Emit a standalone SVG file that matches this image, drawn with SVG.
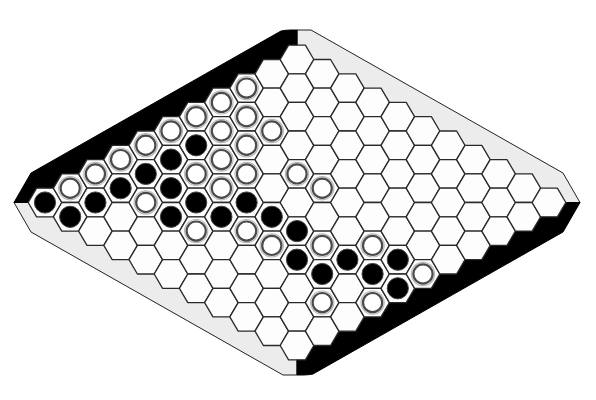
<svg xmlns="http://www.w3.org/2000/svg" xmlns:xlink="http://www.w3.org/1999/xlink" width="596" height="400" viewBox="0 0 596 400">
<defs>
<style>
.hx{fill:#fdfdfd;stroke:#2a2a2a;stroke-width:1.3;stroke-linejoin:round}
.b{fill:#000;stroke:#444;stroke-width:1}
.w{fill:#fff;stroke:#4a4a4a;stroke-width:2.2}
.wh{fill:none;stroke:#b8b8b8;stroke-width:1.2}
.gray{fill:#ececec;stroke:#222;stroke-width:1}
.blk{fill:#000;stroke:#000;stroke-width:1}
</style>
<path id="h" class="hx" d="M-16.8,0 L-8.4,-14.3 L8.4,-14.3 L16.8,0 L8.4,14.3 L-8.4,14.3Z"/>
<g id="bs"><circle r="10.6" class="b"/></g>
<g id="ws"><circle r="11.6" class="wh"/><circle r="9.6" class="w"/></g>
</defs>
<rect width="596" height="400" fill="#fff"/>
<g id="border">
<path class="gray" d="M297,30 L311,30 L563,173 L580,202.5 L297,202.5Z"/>
<path class="gray" d="M297,375 L283,375 L31,232 L14,202.5 L297,202.5Z"/>
<path class="blk" d="M14,202.5 L31,173 L281,31 Q286,30 291,30 L297,30 L297,202.5Z"/>
<path class="blk" d="M580,202.5 L563,232 L313,374 Q308,375 303,375 L297,375 L297,202.5Z"/>
</g>
<g id="cells">
<g transform="translate(45,0)"><use href="#h" y="202.5"/></g>
<g transform="translate(70.2,0)"><use href="#h" y="188.2"/><use href="#h" y="216.8"/></g>
<g transform="translate(95.4,0)"><use href="#h" y="173.9"/><use href="#h" y="202.5"/><use href="#h" y="231.1"/></g>
<g transform="translate(120.6,0)"><use href="#h" y="159.6"/><use href="#h" y="188.2"/><use href="#h" y="216.8"/><use href="#h" y="245.4"/></g>
<g transform="translate(145.8,0)"><use href="#h" y="145.3"/><use href="#h" y="173.9"/><use href="#h" y="202.5"/><use href="#h" y="231.1"/><use href="#h" y="259.7"/></g>
<g transform="translate(171,0)"><use href="#h" y="131"/><use href="#h" y="159.6"/><use href="#h" y="188.2"/><use href="#h" y="216.8"/><use href="#h" y="245.4"/><use href="#h" y="274"/></g>
<g transform="translate(196.2,0)"><use href="#h" y="116.7"/><use href="#h" y="145.3"/><use href="#h" y="173.9"/><use href="#h" y="202.5"/><use href="#h" y="231.1"/><use href="#h" y="259.7"/><use href="#h" y="288.3"/></g>
<g transform="translate(221.4,0)"><use href="#h" y="102.4"/><use href="#h" y="131"/><use href="#h" y="159.6"/><use href="#h" y="188.2"/><use href="#h" y="216.8"/><use href="#h" y="245.4"/><use href="#h" y="274"/><use href="#h" y="302.6"/></g>
<g transform="translate(246.6,0)"><use href="#h" y="88.1"/><use href="#h" y="116.7"/><use href="#h" y="145.3"/><use href="#h" y="173.9"/><use href="#h" y="202.5"/><use href="#h" y="231.1"/><use href="#h" y="259.7"/><use href="#h" y="288.3"/><use href="#h" y="316.9"/></g>
<g transform="translate(271.8,0)"><use href="#h" y="73.8"/><use href="#h" y="102.4"/><use href="#h" y="131"/><use href="#h" y="159.6"/><use href="#h" y="188.2"/><use href="#h" y="216.8"/><use href="#h" y="245.4"/><use href="#h" y="274"/><use href="#h" y="302.6"/><use href="#h" y="331.2"/></g>
<g transform="translate(297,0)"><use href="#h" y="59.5"/><use href="#h" y="88.1"/><use href="#h" y="116.7"/><use href="#h" y="145.3"/><use href="#h" y="173.9"/><use href="#h" y="202.5"/><use href="#h" y="231.1"/><use href="#h" y="259.7"/><use href="#h" y="288.3"/><use href="#h" y="316.9"/><use href="#h" y="345.5"/></g>
<g transform="translate(322.2,0)"><use href="#h" y="73.8"/><use href="#h" y="102.4"/><use href="#h" y="131"/><use href="#h" y="159.6"/><use href="#h" y="188.2"/><use href="#h" y="216.8"/><use href="#h" y="245.4"/><use href="#h" y="274"/><use href="#h" y="302.6"/><use href="#h" y="331.2"/></g>
<g transform="translate(347.4,0)"><use href="#h" y="88.1"/><use href="#h" y="116.7"/><use href="#h" y="145.3"/><use href="#h" y="173.9"/><use href="#h" y="202.5"/><use href="#h" y="231.1"/><use href="#h" y="259.7"/><use href="#h" y="288.3"/><use href="#h" y="316.9"/></g>
<g transform="translate(372.6,0)"><use href="#h" y="102.4"/><use href="#h" y="131"/><use href="#h" y="159.6"/><use href="#h" y="188.2"/><use href="#h" y="216.8"/><use href="#h" y="245.4"/><use href="#h" y="274"/><use href="#h" y="302.6"/></g>
<g transform="translate(397.8,0)"><use href="#h" y="116.7"/><use href="#h" y="145.3"/><use href="#h" y="173.9"/><use href="#h" y="202.5"/><use href="#h" y="231.1"/><use href="#h" y="259.7"/><use href="#h" y="288.3"/></g>
<g transform="translate(423,0)"><use href="#h" y="131"/><use href="#h" y="159.6"/><use href="#h" y="188.2"/><use href="#h" y="216.8"/><use href="#h" y="245.4"/><use href="#h" y="274"/></g>
<g transform="translate(448.2,0)"><use href="#h" y="145.3"/><use href="#h" y="173.9"/><use href="#h" y="202.5"/><use href="#h" y="231.1"/><use href="#h" y="259.7"/></g>
<g transform="translate(473.4,0)"><use href="#h" y="159.6"/><use href="#h" y="188.2"/><use href="#h" y="216.8"/><use href="#h" y="245.4"/></g>
<g transform="translate(498.6,0)"><use href="#h" y="173.9"/><use href="#h" y="202.5"/><use href="#h" y="231.1"/></g>
<g transform="translate(523.8,0)"><use href="#h" y="188.2"/><use href="#h" y="216.8"/></g>
<g transform="translate(549,0)"><use href="#h" y="202.5"/></g>
</g>
<g id="black-stones">
<use href="#bs" x="45" y="202.5"/>
<use href="#bs" x="70.2" y="216.8"/>
<use href="#bs" x="95.4" y="202.5"/>
<use href="#bs" x="120.6" y="188.2"/>
<use href="#bs" x="145.8" y="173.9"/>
<use href="#bs" x="171" y="159.6"/>
<use href="#bs" x="171" y="188.2"/>
<use href="#bs" x="171" y="216.8"/>
<use href="#bs" x="196.2" y="145.3"/>
<use href="#bs" x="196.2" y="202.5"/>
<use href="#bs" x="221.4" y="216.8"/>
<use href="#bs" x="246.6" y="202.5"/>
<use href="#bs" x="271.8" y="216.8"/>
<use href="#bs" x="297" y="231.1"/>
<use href="#bs" x="297" y="259.7"/>
<use href="#bs" x="322.2" y="274"/>
<use href="#bs" x="347.4" y="259.7"/>
<use href="#bs" x="372.6" y="274"/>
<use href="#bs" x="397.8" y="259.7"/>
<use href="#bs" x="397.8" y="288.3"/>
</g>
<g id="white-stones">
<use href="#ws" x="70.2" y="188.2"/>
<use href="#ws" x="95.4" y="173.9"/>
<use href="#ws" x="120.6" y="159.6"/>
<use href="#ws" x="145.8" y="145.3"/>
<use href="#ws" x="171" y="131"/>
<use href="#ws" x="196.2" y="116.7"/>
<use href="#ws" x="221.4" y="102.4"/>
<use href="#ws" x="246.6" y="88.1"/>
<use href="#ws" x="145.8" y="202.5"/>
<use href="#ws" x="196.2" y="173.9"/>
<use href="#ws" x="196.2" y="231.1"/>
<use href="#ws" x="221.4" y="131"/>
<use href="#ws" x="221.4" y="159.6"/>
<use href="#ws" x="221.4" y="188.2"/>
<use href="#ws" x="246.6" y="116.7"/>
<use href="#ws" x="246.6" y="145.3"/>
<use href="#ws" x="246.6" y="173.9"/>
<use href="#ws" x="246.6" y="231.1"/>
<use href="#ws" x="271.8" y="131"/>
<use href="#ws" x="271.8" y="245.4"/>
<use href="#ws" x="297" y="173.9"/>
<use href="#ws" x="322.2" y="188.2"/>
<use href="#ws" x="322.2" y="245.4"/>
<use href="#ws" x="322.2" y="302.6"/>
<use href="#ws" x="372.6" y="245.4"/>
<use href="#ws" x="372.6" y="302.6"/>
<use href="#ws" x="423" y="274"/>
</g>
</svg>
